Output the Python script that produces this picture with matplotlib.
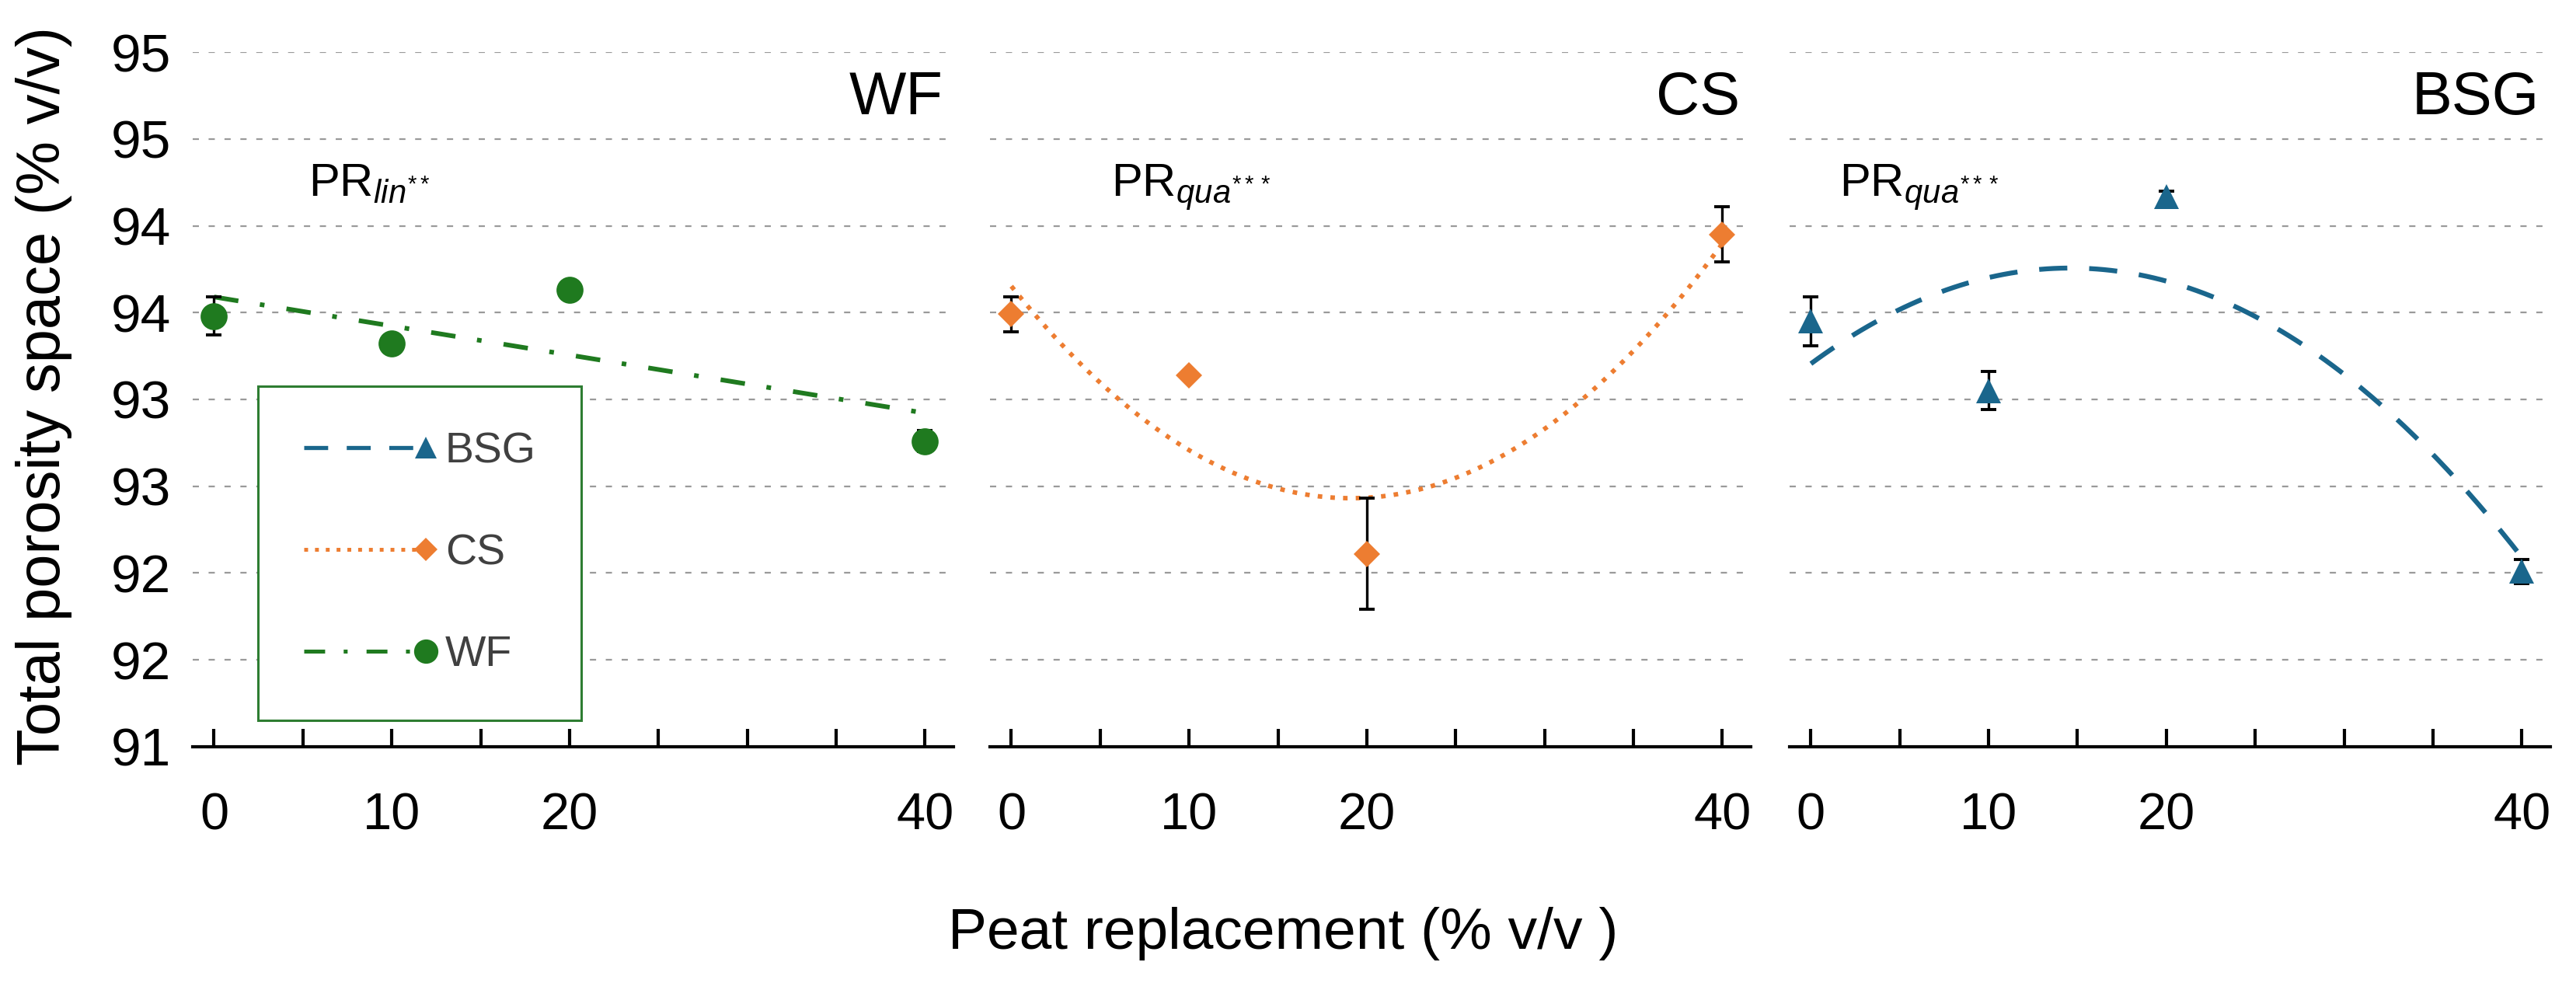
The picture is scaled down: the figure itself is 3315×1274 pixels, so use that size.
import numpy as np
import matplotlib
matplotlib.use("Agg")
import matplotlib.pyplot as plt
from matplotlib.legend_handler import HandlerLine2D
from matplotlib.lines import Line2D

plt.rcParams['font.family'] = ['Liberation Sans', 'DejaVu Sans']
plt.rcParams['mathtext.fontset'] = 'custom'
plt.rcParams['mathtext.rm'] = 'Liberation Sans'
plt.rcParams['mathtext.it'] = 'Liberation Sans:italic'

# data (means and error bars, % v/v)
peat = [0, 10, 20, 40]
wf_mean = [93.48, 93.32, 93.63, 92.76]
wf_err = [0.11, 0.03, 0.03, 0.06]
cs_mean = [93.49, 93.14, 92.11, 93.95]
cs_err = [0.10, 0.02, 0.32, 0.16]
bsg_mean = [93.45, 93.05, 94.17, 92.01]
bsg_err = [0.14, 0.11, 0.03, 0.07]

x_ticks = [0, 5, 10, 15, 20, 25, 30, 35, 40]
x_tick_labels = ['0', '', '10', '', '20', '', '', '', '40']
y_ticks = [91, 91.5, 92, 92.5, 93, 93.5, 94, 94.5, 95]
y_tick_labels = ['91', '92', '92', '93', '93', '94', '94', '95', '95']

green = '#1F7A1F'
orange = '#ED7D31'
blue = '#1A668C'

# name, means, errors, fit degree, colour, marker, marker size, line style, annotation, annotation x
panels = [
    ('WF', wf_mean, wf_err, 1, green, 'o', 25, (0, (5.3, 4.7, 1, 4.8)), r'PR$_{lin^{**}}$', 5.3),
    ('CS', cs_mean, cs_err, 2, orange, 'D', 17, (0, (1, 1.8)), r'PR$_{qua^{***}}$', 5.6),
    ('BSG', bsg_mean, bsg_err, 2, blue, '^', 23, (0, (5.8, 4.5)), r'PR$_{qua^{***}}$', 1.6),
]
line_w = {'WF': 4.3, 'CS': 4.2, 'BSG': 4.5}


class EndMarker(HandlerLine2D):
    # legend marker at the right end of the line sample
    def create_artists(self, *args, **kwargs):
        arts = super().create_artists(*args, **kwargs)
        for a in arts:
            if len(a.get_xdata()) == 3:
                a.set_markevery([2])
        return arts


fig = plt.figure(figsize=(33.16, 12.74), dpi=100)
lefts = [0.0748, 0.3842, 0.6945]
handles = {}
axes = []

for i, (name, mean, err, deg, col, mk, ms, ls, note, note_x) in enumerate(panels):
    ax = fig.add_axes([lefts[i], 0.2457, 0.2952, 0.7017])
    axes.append(ax)

    xs = np.linspace(0, 40, 200)
    coef = np.polyfit(peat, mean, deg)
    ax.plot(xs, np.polyval(coef, xs), color=col, lw=line_w[name], linestyle=ls, zorder=2)

    ax.errorbar(peat, mean, yerr=err, fmt='none', ecolor='black', elinewidth=2.4,
                capsize=7, capthick=2.8, zorder=3)
    ax.plot(peat, mean, linestyle='none', marker=mk, markersize=ms, color=col,
            markeredgewidth=0, zorder=4)

    handles[name] = Line2D([], [], color=col, lw=line_w[name] * 0.85, linestyle=ls,
                           marker=mk, markersize=ms * 0.9, markeredgewidth=0)

    ax.set_xlim(-1.2, 41.6)
    ax.set_ylim(91, 95)
    ax.set_xticks(x_ticks)
    ax.set_xticklabels(x_tick_labels)
    ax.set_yticks(y_ticks)
    ax.set_yticklabels(y_tick_labels)
    ax.tick_params(axis='x', direction='in', length=16.5, width=3, pad=42,
                   labelsize=48, color='black')
    ax.tick_params(axis='y', length=0, pad=20, labelsize=50, labelleft=(i == 0))
    for s in ['left', 'right', 'top']:
        ax.spines[s].set_visible(False)
    ax.spines['bottom'].set_linewidth(3)
    ax.spines['bottom'].set_color('black')
    ax.yaxis.grid(True, color='#9a9a9a', linewidth=1.6, linestyle=(0, (3.6, 5.6)))
    ax.set_axisbelow(True)

    ax.text(0.986, 0.934, name, transform=ax.transAxes, ha='right', va='center', fontsize=56)
    ax.text(note_x, 94.17, note, ha='left', va='baseline', fontsize=43)

order = ['BSG', 'CS', 'WF']
leg = axes[0].legend([handles[k] for k in order], order, loc='upper left',
                     bbox_to_anchor=(0.086, 0.519), borderaxespad=0, fontsize=40,
                     handlelength=2.83, handletextpad=0.45, labelspacing=1.42,
                     borderpad=1.05, fancybox=False, framealpha=1,
                     handler_map={Line2D: EndMarker()})
leg.get_frame().set_edgecolor('#2E7D32')
leg.get_frame().set_linewidth(2.2)
for t in leg.get_texts():
    t.set_color('#404040')

fig.text(0.0169, 0.5997, 'Total porosity space (% v/v)', rotation=90,
         ha='center', va='center', fontsize=56)
fig.text(0.498, 0.057, 'Peat replacement (% v/v )', ha='center', va='center', fontsize=54)

fig.savefig('out.png', dpi=100)
